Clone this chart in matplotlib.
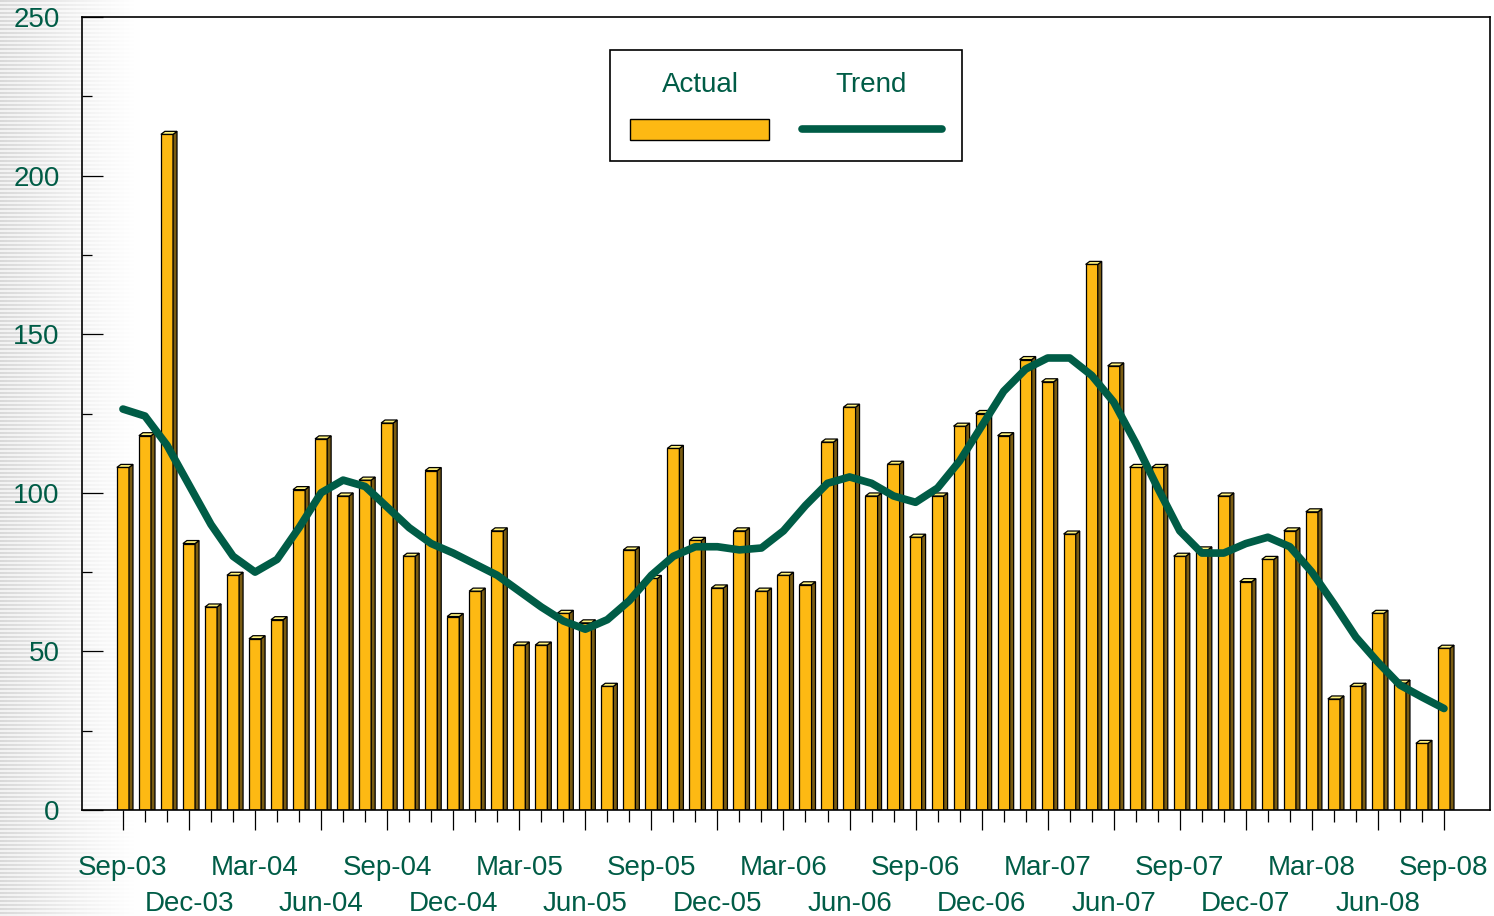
import numpy as np
import matplotlib.pyplot as plt
from matplotlib.patches import Polygon, Rectangle

plt.rcParams['font.family'] = ['Liberation Sans', 'DejaVu Sans']

# monthly values, Sep-03 .. Sep-08
actual = [108, 118, 213, 84, 64, 74, 54, 60, 101, 117, 99, 104,
          122, 80, 107, 61, 69, 88, 52, 52, 62, 59, 39, 82,
          73, 114, 85, 70, 88, 69, 74, 71, 116, 127, 99, 109,
          86, 99, 121, 125, 118, 142, 135, 87, 172, 140, 108, 108,
          80, 82, 99, 72, 79, 88, 94, 35, 39, 62, 40, 21, 51]
trend = [126.4, 124.2, 115, 102.5, 90, 80, 75, 79, 89, 100, 104, 102,
         95.5, 89, 84, 81, 77.5, 74, 69, 64, 59.6, 57, 60, 66,
         74, 80, 83, 83, 82, 82.6, 88, 96, 103, 105, 103, 99,
         97, 101.5, 110, 121, 132, 139, 142.5, 142.5, 137, 128.6, 115.7, 101.5,
         88, 81, 81, 84, 86, 83, 75, 65, 54.5, 46.6, 39.4, 35.6, 32]
tick_labels = ['Sep-03', 'Dec-03', 'Mar-04', 'Jun-04', 'Sep-04', 'Dec-04',
               'Mar-05', 'Jun-05', 'Sep-05', 'Dec-05', 'Mar-06', 'Jun-06',
               'Sep-06', 'Dec-06', 'Mar-07', 'Jun-07', 'Sep-07', 'Dec-07',
               'Mar-08', 'Jun-08', 'Sep-08']

green = '#005C46'
front = '#FDB913'
side = '#7A5C12'
top = '#FFF27A'

W, H = 1494, 916
fig = plt.figure(figsize=(W / 100, H / 100), dpi=100)

# striped grey background fading out to the right
bw_px = 150
rows = (np.arange(H) % 4 < 2).astype(float)[:, None]
fade = np.clip(1 - np.arange(bw_px) / 140, 0, 1)[None, :] ** 1.2
val = 1 - (0.05 + 0.10 * rows) * fade
img = np.dstack([val, val, val])
fig.figimage(img, xo=0, yo=0, origin='upper', zorder=-1)

ax = fig.add_axes([82 / W, 106 / H, 1408 / W, 793 / H])
ax.set_facecolor('none')

x = np.arange(len(actual))
bw = 0.55
dx, dy = 0.18, 0.95
ax.bar(x, actual, width=bw, color=front, edgecolor='black', linewidth=0.9, zorder=2)
for xi, v in zip(x, actual):
    l, r = xi - bw / 2, xi + bw / 2
    ax.add_patch(Polygon([(r, 0), (r + dx, 0), (r + dx, v + dy), (r, v)],
                         closed=True, fc=side, ec='black', lw=0.9, zorder=2))
    ax.add_patch(Polygon([(l, v), (l + dx, v + dy), (r + dx, v + dy), (r, v)],
                         closed=True, fc=top, ec='black', lw=0.9, zorder=2))

ax.plot(x, trend, color=green, lw=5.5, solid_capstyle='round',
        solid_joinstyle='round', zorder=3)

ax.set_xlim(-1.86, 62.09)
ax.set_ylim(0, 250)

major = x[::3]
ax.set_xticks(major)
ax.set_xticklabels([t if i % 2 == 0 else '' for i, t in enumerate(tick_labels)])
ax.set_xticks(x, minor=True)
ax.set_yticks(range(0, 251, 50))
ax.set_yticks(range(25, 250, 50), minor=True)

ax.tick_params(axis='x', which='major', direction='out', length=14.5, width=0.9,
               pad=18, labelsize=20, labelcolor=green)
ax.tick_params(axis='x', which='minor', direction='out', length=8.5, width=0.9)
ax.tick_params(axis='y', which='major', direction='in', length=15, width=0.9,
               pad=16, labelsize=20, labelcolor=green)
ax.tick_params(axis='y', which='minor', direction='in', length=7, width=0.9)

# second row of month labels
sec = ax.secondary_xaxis('bottom')
sec.set_xticks(major[1::2])
sec.set_xticklabels(tick_labels[1::2])
sec.tick_params(axis='x', length=0, pad=58, labelsize=20, labelcolor=green)
sec.spines['bottom'].set_visible(False)

for s in ax.spines.values():
    s.set_linewidth(1.2)
    s.set_color('black')

# legend box
tr = ax.transAxes
ax.add_patch(Rectangle((0.375, 0.818), 0.25, 0.14, transform=tr, fc='white',
                       ec='black', lw=1.2, zorder=5))
ax.text(0.439, 0.914, 'Actual', transform=tr, ha='center', va='center',
        fontsize=20, color=green, zorder=6)
ax.text(0.5604, 0.914, 'Trend', transform=tr, ha='center', va='center',
        fontsize=20, color=green, zorder=6)
ax.add_patch(Rectangle((0.389, 0.845), 0.0987, 0.0265, transform=tr, fc=front,
                       ec='black', lw=1.0, zorder=6))
ax.plot([0.5115, 0.6105], [0.8588, 0.8588], transform=tr, color=green, lw=5.5,
        solid_capstyle='round', zorder=6)

fig.savefig('out.png', dpi=100)
